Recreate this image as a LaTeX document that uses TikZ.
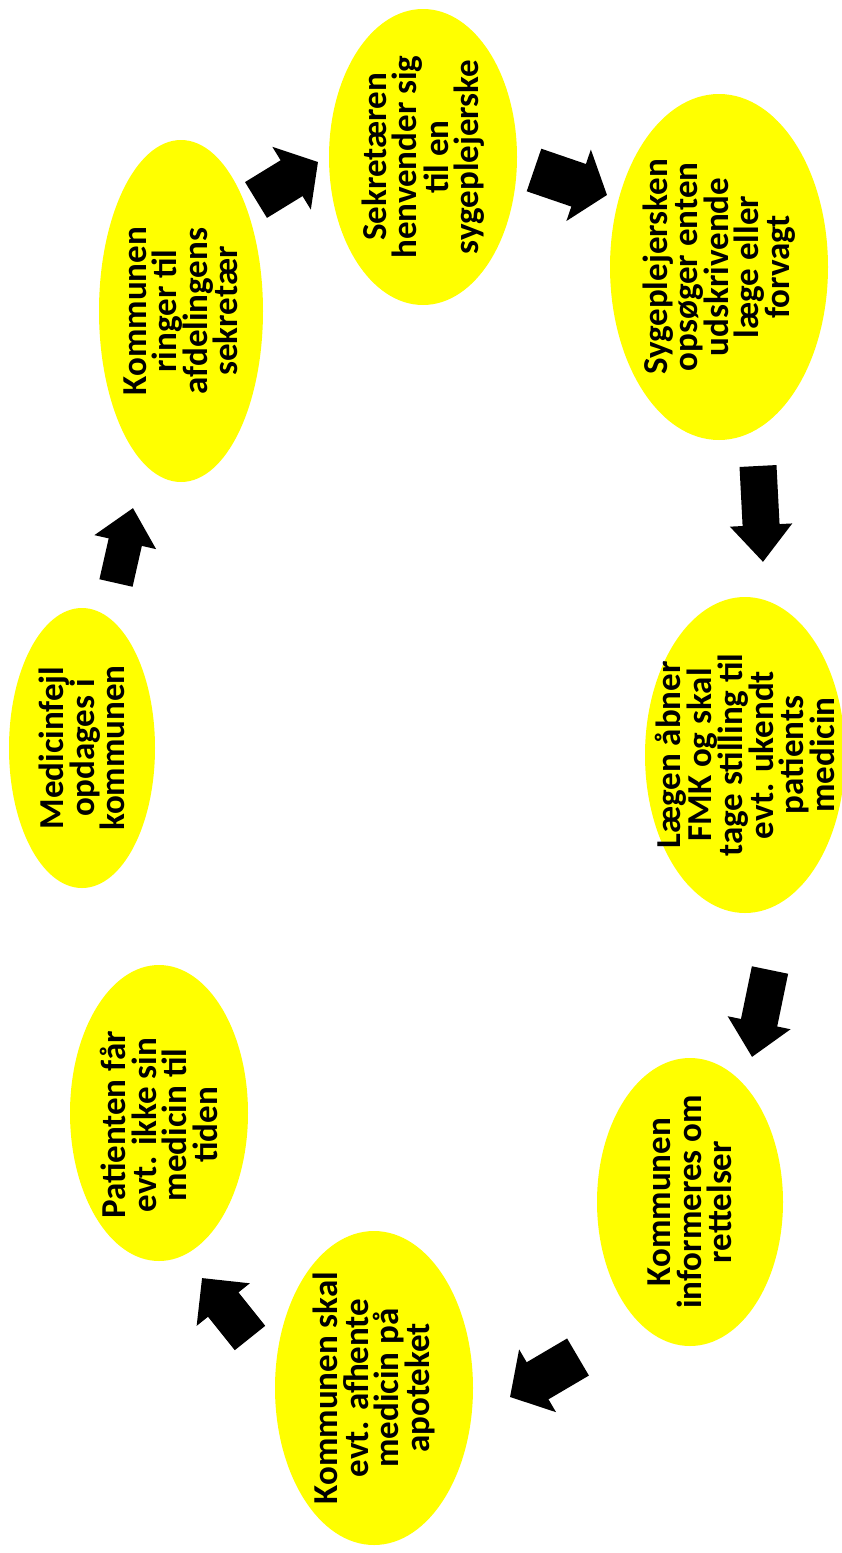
\documentclass[tikz,border=0pt]{standalone}
\usepackage{fontspec}
\setmainfont{Carlito}
\usetikzlibrary{shapes.geometric,arrows.meta}
\definecolor{bubyellow}{RGB}{255,255,0}
\tikzset{
  bub/.style={ellipse, fill=bubyellow, draw=none, inner sep=0pt},
  txt/.style={rotate=90, align=center, inner sep=0pt, font=\fontsize{35}{30.5}\selectfont\bfseries, text=black},
  blk/.style={draw=black, line cap=butt}
}
\begin{document}
\begin{tikzpicture}[x=1pt,y=-1pt]
\useasboundingbox (0,0) rectangle (842,1553);
% bubbles (minimum width = horizontal extent, minimum height = vertical extent)
\node[bub, minimum width=146, minimum height=280] (e1) at (82,748) {};
\node[bub, minimum width=164, minimum height=342] (e2) at (181,311) {};
\node[bub, minimum width=188, minimum height=296] (e3) at (423,157) {};
\node[bub, minimum width=218, minimum height=346] (e4) at (719,267) {};
\node[bub, minimum width=200, minimum height=316] (e5) at (745,755) {};
\node[bub, minimum width=186, minimum height=288] (e6) at (690,1202) {};
\node[bub, minimum width=198, minimum height=314] (e7) at (374,1388) {};
\node[bub, minimum width=178, minimum height=296] (e8) at (159,1113) {};
% texts
\node[txt] (t1) at (e1) {Medicinfejl\\opdages i\\kommunen};
\node[txt] (t2) at (e2) {Kommunen\\ringer til\\afdelingens\\sekretær};
\node[txt] (t3) at (e3) {Sekretæren\\henvender sig\\til en\\sygeplejerske};
\node[txt] (t4) at (e4) {Sygeplejersken\\opsøger enten\\udskrivende\\læge eller\\forvagt};
\node[txt] (t5) at (e5) {Lægen åbner\\FMK og skal\\tage stilling til\\evt. ukendt\\patients\\medicin};
\node[txt] (t6) at (e6) {Kommunen\\informeres om\\rettelser};
\node[txt] (t7) at (e7) {Kommunen skal\\evt. afhente\\medicin på\\apoteket};
\node[txt] (t8) at ([yshift=-12pt]e8.center) {Patienten får\\evt. ikke sin\\medicin til\\tiden};
% arrow end points
\coordinate (a1s) at (116,583); \coordinate (a1e) at (133,508);
\coordinate (a2s) at (256,200); \coordinate (a2e) at (318,162);
\coordinate (a3s) at (534,170); \coordinate (a3e) at (607,195);
\coordinate (a4s) at (758,466); \coordinate (a4e) at (763,562);
\coordinate (a5s) at (770,970); \coordinate (a5e) at (752,1057);
\coordinate (a6s) at (578,1357); \coordinate (a6e) at (510,1397);
\coordinate (a7s) at (250,1338); \coordinate (a7e) at (202,1278);
% block arrows
\draw[blk, line width=34pt, -{Triangle[length=35pt,width=61pt]}] (a1s) -- (a1e);
\draw[blk, line width=42pt, -{Triangle[length=31pt,width=72pt]}] (a2s) -- (a2e);
\draw[blk, line width=45pt, -{Triangle[length=30pt,width=74pt]}] (a3s) -- (a3e);
\draw[blk, line width=37pt, -{Triangle[length=37pt,width=60pt]}] (a4s) -- (a4e);
\draw[blk, line width=37pt, -{Triangle[length=35pt,width=62pt]}] (a5s) -- (a5e);
\draw[blk, line width=43pt, -{Triangle[length=32pt,width=71pt]}] (a6s) -- (a6e);
\draw[blk, line width=39pt, -{Triangle[length=34pt,width=66pt]}] (a7s) -- (a7e);
\end{tikzpicture}
\end{document}
